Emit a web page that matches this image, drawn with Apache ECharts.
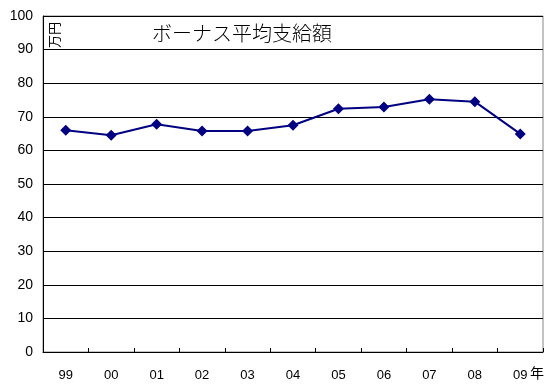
<!DOCTYPE html>
<html><head><meta charset="utf-8">
<script src="https://cdn.jsdelivr.net/npm/echarts@6/dist/echarts.min.js"></script>
<style>html,body{margin:0;padding:0;background:#fff}#c{width:552px;height:390px}</style>
</head><body><div id="c"></div>
<script>
const categories = ['99','00','01','02','03','04','05','06','07','08','09'];
const values = [66.0, 64.5, 67.8, 65.8, 65.8, 67.5, 72.4, 72.9, 75.2, 74.5, 64.9];
const yTicks = [0,10,20,30,40,50,60,70,80,90,100];
const titleText = 'ボーナス平均支給額';
const unitText = '万円';
const yearText = '年';

const chart = echarts.init(document.getElementById('c'));
chart.setOption({
  animation: false,
  backgroundColor: '#fff',
  grid: {left: 43, right: 9, top: 16, bottom: 38, show: true, borderColor: '#888', borderWidth: 1},
  xAxis: {
    type: 'category', data: categories, boundaryGap: true,
    axisLine: {lineStyle: {color: '#000', width: 1}},
    axisTick: {show: true, inside: true, length: 4, lineStyle: {color: '#000'}},
    axisLabel: {color: '#000', fontSize: 13, fontFamily: 'Liberation Sans', margin: 17}
  },
  yAxis: {
    type: 'value', min: yTicks[0], max: yTicks[yTicks.length-1], interval: 10,
    axisLine: {show: true, lineStyle: {color: '#000'}},
    axisTick: {show: false},
    splitLine: {lineStyle: {color: '#000', width: 1}},
    axisLabel: {color: '#000', fontSize: 14, fontFamily: 'Liberation Sans', margin: 10}
  },
  series: [{
    type: 'line', data: values,
    lineStyle: {color: '#000080', width: 2},
    itemStyle: {color: '#000080'},
    symbol: 'diamond', symbolSize: 11
  }],
  graphic: [
    {type: 'text', left: 152, top: 23, style: {text: titleText, fontSize: 20, fontWeight: 300, fontFamily: 'Noto Sans CJK JP', fill: '#000'}},
    {type: 'text', x: 48, y: 48, rotation: Math.PI/2, style: {text: unitText, fontSize: 13, fontFamily: 'Noto Sans CJK JP', fill: '#000'}},
    {type: 'text', left: 530, top: 366, style: {text: yearText, fontSize: 14, fontFamily: 'Noto Sans CJK JP', fill: '#000'}}
  ]
});
</script></body></html>
